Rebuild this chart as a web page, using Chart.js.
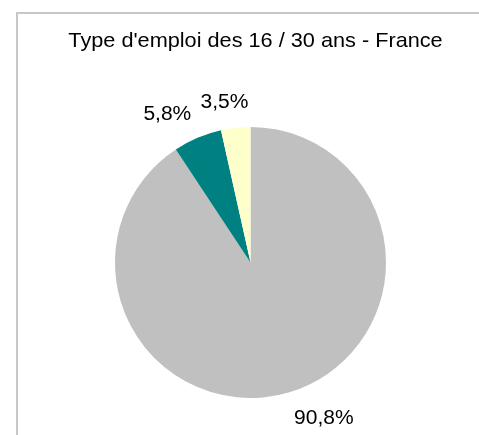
<!DOCTYPE html>
<html>
<head>
<meta charset="utf-8">
<script src="https://cdn.jsdelivr.net/npm/chart.js@4/dist/chart.umd.min.js"></script>
<style>
html,body{margin:0;padding:0;background:#fff;}
canvas{display:block;}
</style>
</head>
<body>
<canvas id="c" width="479" height="435"></canvas>
<script>
const chartTitle = "Type d'emploi des 16 / 30 ans - France";
const categories = ["Catégorie 1", "Catégorie 2", "Catégorie 3"];
const values = [90.8, 5.8, 3.5];
const colors = ["#C0C0C0", "#008080", "#FFFFCC"];

function fmt(v) { return v.toFixed(1).replace('.', ',') + '%'; }

function stretchedText(ctx, txt, x, y, sx) {
  ctx.save();
  ctx.translate(x, y);
  ctx.scale(sx, 1);
  ctx.fillText(txt, 0, 0);
  ctx.restore();
}

const framePlugin = {
  id: 'frame',
  beforeDraw(chart) {
    const ctx = chart.ctx;
    ctx.save();
    ctx.fillStyle = '#ffffff';
    ctx.fillRect(0, 0, chart.width, chart.height);
    ctx.fillStyle = '#c8c8c8';
    ctx.fillRect(16, 12, chart.width - 16, 2);
    ctx.fillRect(16, 12, 2, chart.height - 12);
    ctx.restore();
  },
  afterDraw(chart) {
    const ctx = chart.ctx;
    ctx.save();
    ctx.font = '21px "Liberation Sans", Arial, sans-serif';
    ctx.fillStyle = '#000';
    ctx.textAlign = 'center';
    ctx.textBaseline = 'middle';
    stretchedText(ctx, chartTitle, 255.5, 41, 1.033);
    ctx.restore();
  }
};

const labelPlugin = {
  id: 'outLabels',
  afterDatasetsDraw(chart) {
    const ctx = chart.ctx;
    const meta = chart.getDatasetMeta(0);
    const sx = 1.05;
    ctx.save();
    ctx.font = '20px "Liberation Sans", Arial, sans-serif';
    ctx.fillStyle = '#000';
    ctx.textAlign = 'center';
    ctx.textBaseline = 'middle';
    const f = t => Math.max(-1, Math.min(1, t * 3.6));
    meta.data.forEach((arc, i) => {
      const p = arc.getProps(['x', 'y', 'startAngle', 'endAngle', 'outerRadius'], true);
      const mid = (p.startAngle + p.endAngle) / 2;
      const dx = Math.cos(mid), dy = Math.sin(mid);
      const r = p.outerRadius + 16;
      const px = p.x + r * dx, py = p.y + r * dy;
      const txt = fmt(values[i]);
      const w = ctx.measureText(txt).width * sx;
      const h = 20;
      stretchedText(ctx, txt, px + f(dx) * w / 2, py + f(dy) * h / 2 + 1, sx);
    });
    ctx.restore();
  }
};

new Chart(document.getElementById('c'), {
  type: 'pie',
  data: {
    labels: categories,
    datasets: [{
      data: values,
      backgroundColor: colors,
      borderWidth: 0
    }]
  },
  options: {
    responsive: false,
    animation: false,
    devicePixelRatio: 1,
    layout: { padding: { top: 127, bottom: 37, left: 60, right: 38 } },
    plugins: {
      legend: { display: false },
      title: { display: false },
      tooltip: { enabled: false }
    }
  },
  plugins: [framePlugin, labelPlugin]
});
</script>
</body>
</html>
